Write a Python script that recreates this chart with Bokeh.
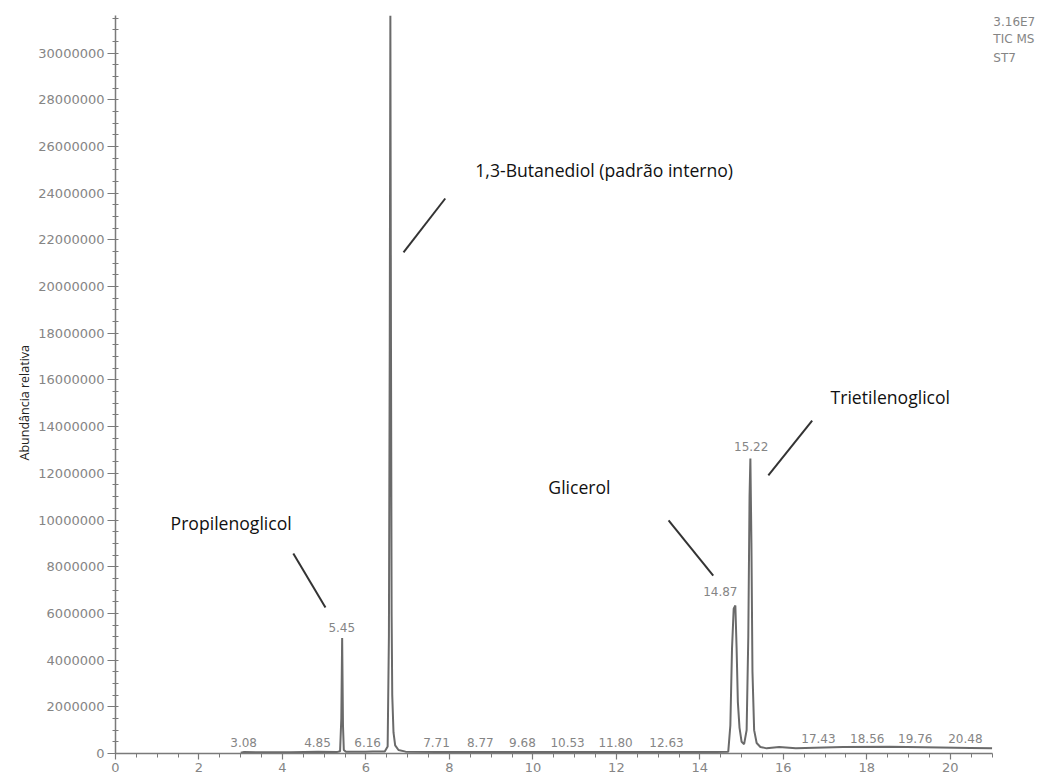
from bokeh.plotting import figure
from bokeh.models import Range1d, SingleIntervalTicker, BasicTickFormatter, Title
from bokeh.core.properties import value
from bokeh.embed import file_html
from bokeh.resources import INLINE

# ---- chromatogram trace (retention time, min / abundance) ----
rt_min = [3.00, 3.08, 3.60, 4.20, 4.85, 5.30, 5.38, 5.41, 5.43, 5.45, 5.47, 5.52,
          6.00, 6.16, 6.45, 6.52, 6.55, 6.57, 6.585, 6.60, 6.615, 6.63, 6.66, 6.70,
          6.78, 6.95, 7.71, 8.77, 9.68, 10.53, 11.80, 12.63, 13.50, 14.40, 14.68,
          14.73, 14.77, 14.81, 14.85, 14.88, 14.91, 14.95, 15.00, 15.06, 15.12,
          15.16, 15.19, 15.21, 15.235, 15.26, 15.30, 15.36, 15.45, 15.60, 15.90,
          16.30, 17.43, 18.56, 19.76, 20.48, 21.00]
abundance = [30000, 60000, 50000, 50000, 70000, 60000, 100000, 1500000, 4950000,
             1200000, 150000, 70000, 70000, 90000, 90000, 300000, 5000000, 17300000,
             31600000, 17300000, 6000000, 2500000, 900000, 350000, 150000, 80000,
             60000, 60000, 60000, 60000, 60000, 60000, 60000, 60000, 80000,
             1200000, 4500000, 6200000, 6340000, 4500000, 2200000, 1100000, 500000,
             400000, 1000000, 5000000, 11000000, 12630000, 9000000, 3500000, 1000000,
             450000, 280000, 220000, 280000, 230000, 280000, 290000, 260000, 240000,
             220000]

# ---- peak retention-time labels ----
peak_labels = ["5.45", "14.87", "15.22"]
peak_label_x = [5.42, 14.49, 15.23]
peak_label_y = [5400000, 6940000, 13150000]

base_labels = ["3.08", "4.85", "6.16", "7.71", "8.77", "9.68", "10.53", "11.80",
               "12.63", "17.43", "18.56", "19.76", "20.48"]
base_label_x = [3.07, 4.84, 6.04, 7.69, 8.74, 9.75, 10.83, 11.98, 13.20,
                16.84, 18.01, 19.16, 20.36]
base_label_y = [470000] * 9 + [640000] * 4

# ---- compound annotations ----
compounds = ["Propilenoglicol", "1,3-Butanediol (padrão interno)", "Glicerol", "Trietilenoglicol"]
compound_x = [1.32, 8.62, 10.37, 17.13]
compound_y = [9890000, 24970000, 11430000, 15250000]
leader_x0 = [4.26, 7.90, 13.25, 16.69]
leader_y0 = [8570000, 23770000, 9980000, 14260000]
leader_x1 = [5.03, 6.90, 14.32, 15.64]
leader_y1 = [6250000, 21460000, 7620000, 11910000]

header = ["3.16E7", "TIC  MS", "ST7"]
header_y = [31350000, 30580000, 29770000]

y_max = 31600000

p = figure(width=1050, height=778, output_backend="svg", toolbar_location=None,
           x_range=Range1d(0, 22.40), y_range=Range1d(0, 32250000),
           min_border_left=115, min_border_right=0, min_border_top=0, min_border_bottom=25)
p.outline_line_color = None
p.xgrid.visible = False
p.ygrid.visible = False
p.background_fill_color = "white"

for ax in (p.xaxis[0], p.yaxis[0]):
    ax.axis_line_color = "#7a7a7a"
    ax.axis_line_width = 1.5
    ax.major_tick_line_color = "#7a7a7a"
    ax.minor_tick_line_color = "#7a7a7a"
    ax.major_tick_line_width = 1.2
    ax.minor_tick_line_width = 1
    ax.major_label_text_color = "#858585"
    ax.major_label_text_font = "DejaVu Sans"
    ax.major_label_text_font_size = "13px"

p.xaxis[0].ticker = SingleIntervalTicker(interval=2, num_minor_ticks=4)
p.xaxis[0].bounds = (0, 21)
p.xaxis[0].major_tick_out = 6
p.xaxis[0].major_tick_in = 0
p.xaxis[0].minor_tick_out = 4
p.xaxis[0].minor_tick_in = 0
p.xaxis[0].major_label_standoff = 3

p.yaxis[0].ticker = SingleIntervalTicker(interval=2000000, num_minor_ticks=4)
p.yaxis[0].formatter = BasicTickFormatter(use_scientific=False)
p.yaxis[0].bounds = (0, y_max)
p.yaxis[0].major_tick_out = 8
p.yaxis[0].major_tick_in = 0
p.yaxis[0].minor_tick_out = 3
p.yaxis[0].minor_tick_in = 3
p.yaxis[0].major_label_standoff = 3

p.line(rt_min, abundance, line_color="#6a6a6a", line_width=2)

p.text(x=peak_label_x, y=peak_label_y, text=peak_labels, text_font=value("DejaVu Sans"),
       text_font_size="12px", text_color="#858585", text_align="center", text_baseline="middle")
p.text(x=base_label_x, y=base_label_y, text=base_labels, text_font=value("DejaVu Sans"),
       text_font_size="12px", text_color="#858585", text_align="center", text_baseline="middle")

p.segment(x0=leader_x0, y0=leader_y0, x1=leader_x1, y1=leader_y1,
          line_color="#333333", line_width=2)
p.text(x=compound_x, y=compound_y, text=compounds, text_font=value("Open Sans"),
       text_font_size="17.6px", text_color="#111111", text_align="left", text_baseline="middle")

p.text(x=[21.03] * 3, y=header_y, text=header, text_font=value("DejaVu Sans"),
       text_font_size="12px", text_color="#858585", text_align="left", text_baseline="middle")

ylab = Title(text="Abundância relativa", align="left", offset=293,
             text_font="Open Sans", text_font_size="12.5px", text_font_style="normal",
             text_color="#222222", standoff=6)
p.add_layout(ylab, "left")

open("out.html", "w").write(file_html(p, INLINE))
